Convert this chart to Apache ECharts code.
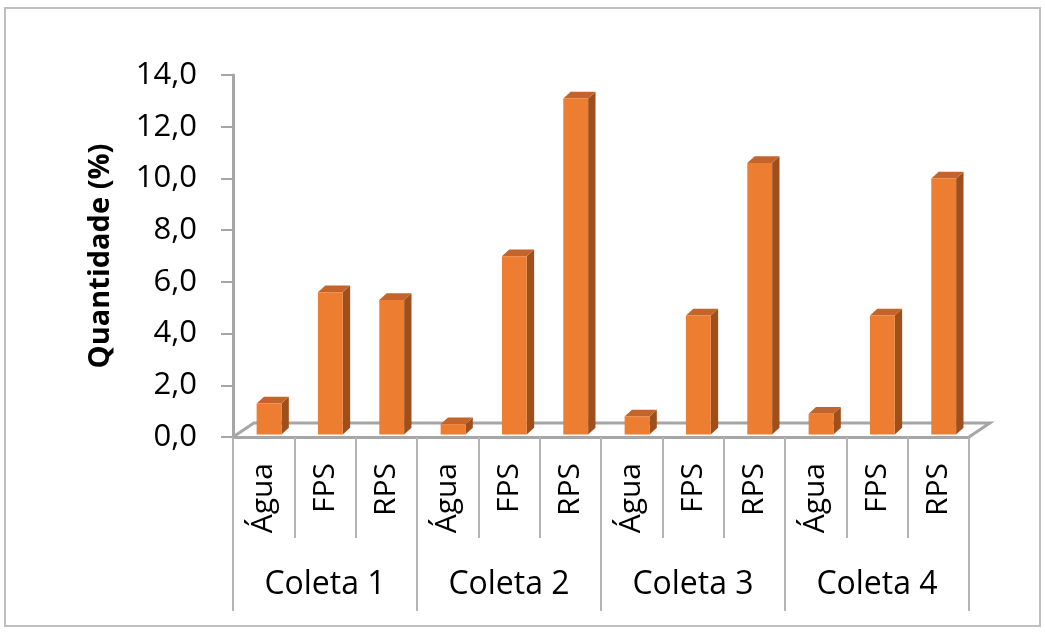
<!DOCTYPE html>
<html>
<head>
<meta charset="utf-8">
<script src="https://cdn.jsdelivr.net/npm/echarts@6/dist/echarts.min.js"></script>
<style>
  html, body { margin: 0; padding: 0; background: #ffffff; }
  #chart { width: 1045px; height: 633px; }
</style>
</head>
<body>
<div id="chart"></div>
<script>
// Sample fractions per collection campaign
const groups = ['Coleta 1', 'Coleta 2', 'Coleta 3', 'Coleta 4'];
const fractions = ['Água', 'FPS', 'RPS'];
const agua = [1.2, 0.4, 0.7, 0.8];
const fps = [5.5, 6.9, 4.6, 4.6];
const rps = [5.2, 13.0, 10.5, 9.9];

// Flatten into one category per (collection, fraction)
const byFraction = [agua, fps, rps];
const categories = [];
const barData = [];
groups.forEach(function (g, gi) {
  fractions.forEach(function (f, fi) {
    categories.push(f);
    barData.push([categories.length - 1, byFraction[fi][gi]]);
  });
});

const FONT = '"Open Sans", "Noto Sans", sans-serif';
const GRID_LINE = '#A6A6A6';
const DIVIDER = '#B4B4B4';

// Pseudo-3D column: front face, right side face and top cap
function renderBar(params, api) {
  const i = api.value(0);
  const v = api.value(1);
  const bw = api.size([1, 0])[0];
  const base = api.coord([i, 0]);
  const top = api.coord([i, v]);
  const lift = bw * 0.04;
  const x0 = base[0] - bw * 0.115;
  const x1 = base[0] + bw * 0.29;
  const yb = base[1] - lift;
  const yt = top[1] - lift;
  const dx = bw * 0.12;
  const dy = -bw * 0.11;
  return {
    type: 'group',
    children: [
      {
        type: 'polygon',
        shape: { points: [[x1, yb], [x1 + dx, yb + dy], [x1 + dx, yt + dy], [x1, yt]] },
        style: { fill: '#9E4F1C', stroke: null }
      },
      {
        type: 'polygon',
        shape: { points: [[x0, yt], [x1, yt], [x1 + dx, yt + dy], [x0 + dx, yt + dy]] },
        style: { fill: '#C4642A', stroke: null }
      },
      {
        type: 'rect',
        shape: { x: x0, y: yt, width: x1 - x0, height: yb - yt },
        style: { fill: '#ED7D31', stroke: null }
      }
    ]
  };
}

// Floor outline of the 3D plot area
function renderFloor(params, api) {
  const n = categories.length;
  const bw = api.size([1, 0])[0];
  const a = api.coord([0, 0]);
  const b = api.coord([n - 1, 0]);
  const left = a[0] - bw / 2;
  const right = b[0] + bw / 2;
  const y = a[1];
  const dx = bw * 0.34;
  const dy = -bw * 0.23;
  return {
    type: 'group',
    children: [
      {
        type: 'polyline',
        shape: { points: [[left, y], [left + dx, y + dy], [right + dx, y + dy], [right, y]] },
        style: { stroke: GRID_LINE, lineWidth: 3, fill: null }
      }
    ]
  };
}

const chart = echarts.init(document.getElementById('chart'), null, { renderer: 'canvas' });

chart.setOption({
  backgroundColor: '#ffffff',
  animation: false,
  graphic: [
    {
      type: 'rect',
      shape: { x: 5, y: 8, width: 1035, height: 618 },
      style: { fill: null, stroke: '#BFBFBF', lineWidth: 2 },
      z: 0
    }
  ],
  grid: { left: 233, right: 76, top: 75, bottom: 196, containLabel: false },
  xAxis: [
    {
      type: 'category',
      data: categories,
      position: 'bottom',
      axisLine: { show: true, lineStyle: { color: GRID_LINE, width: 3 } },
      axisTick: { show: true, length: 101, interval: 0, lineStyle: { color: DIVIDER, width: 2 } },
      axisLabel: {
        interval: 0,
        rotate: 90,
        margin: 26,
        color: '#000000',
        fontFamily: FONT,
        fontSize: 30
      },
      splitLine: { show: false }
    },
    {
      type: 'category',
      data: groups,
      position: 'bottom',
      axisLine: { show: false },
      axisTick: { show: true, length: 174, interval: 0, lineStyle: { color: DIVIDER, width: 2 } },
      axisLabel: {
        interval: 0,
        margin: 132,
        color: '#000000',
        fontFamily: FONT,
        fontSize: 32
      },
      splitLine: { show: false }
    }
  ],
  yAxis: {
    type: 'value',
    min: 0,
    max: 14,
    interval: 2,
    name: 'Quantidade (%)',
    nameLocation: 'middle',
    nameRotate: 90,
    nameGap: 118,
    nameTextStyle: { color: '#000000', fontFamily: FONT, fontSize: 29, fontWeight: 'bold' },
    axisLine: { show: true, lineStyle: { color: GRID_LINE, width: 3 } },
    axisTick: { show: true, length: 12, lineStyle: { color: GRID_LINE, width: 2 } },
    axisLabel: {
      margin: 36,
      color: '#000000',
      fontFamily: FONT,
      fontSize: 31,
      formatter: function (v) { return v.toFixed(1).replace('.', ','); }
    },
    splitLine: { show: false }
  },
  series: [
    {
      type: 'custom',
      name: 'piso',
      xAxisIndex: 0,
      renderItem: renderFloor,
      data: [[0, 0]],
      z: 1,
      silent: true
    },
    {
      type: 'custom',
      name: 'Quantidade',
      xAxisIndex: 0,
      renderItem: renderBar,
      encode: { x: 0, y: 1 },
      data: barData,
      z: 2
    }
  ]
});
</script>
</body>
</html>
